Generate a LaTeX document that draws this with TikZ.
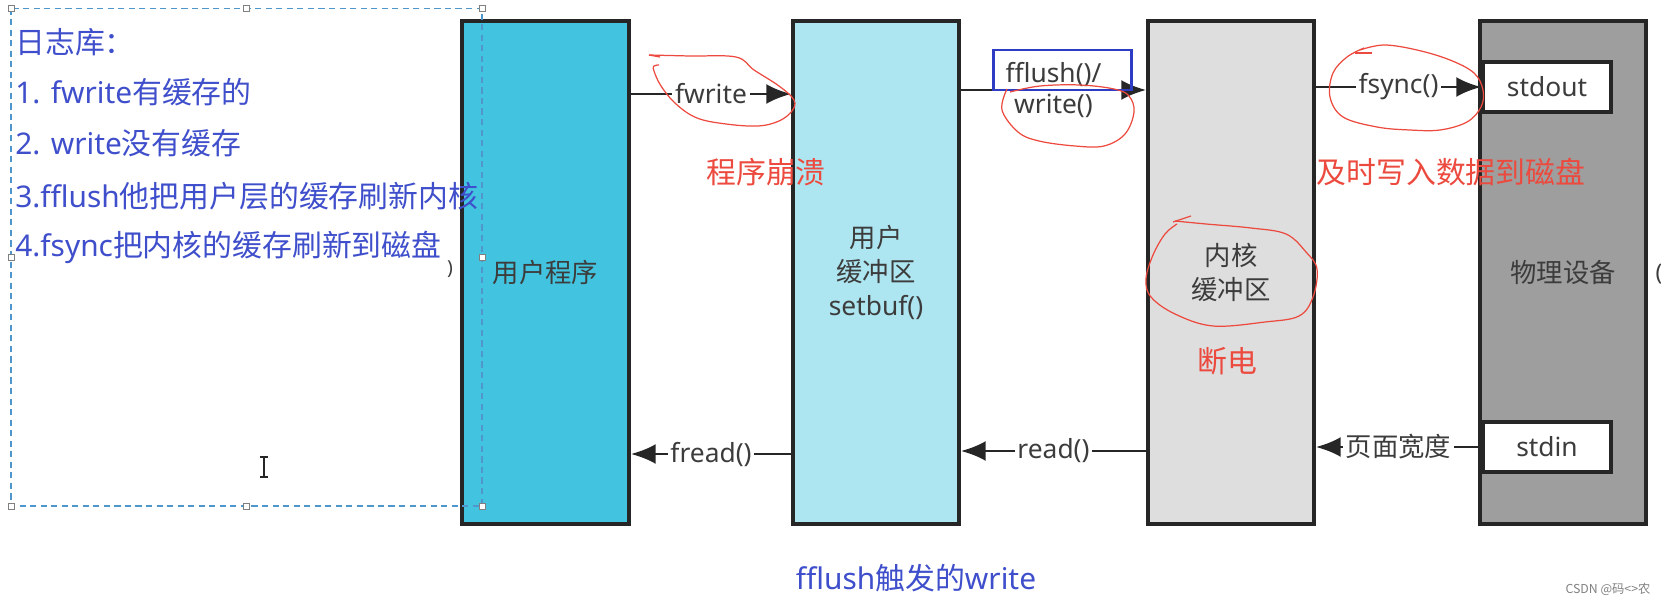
\documentclass[tikz,border=0pt]{standalone}
\usepackage{fontspec}
\setmainfont{Noto Sans}
\newfontfamily\cjk{Noto Sans CJK SC}
\usetikzlibrary{positioning,arrows.meta}
\definecolor{progcyan}{HTML}{42C4E0}
\definecolor{bufcyan}{HTML}{ADE5F0}
\definecolor{kerngray}{HTML}{DEDEDE}
\definecolor{devgray}{HTML}{9E9E9E}
\definecolor{edge}{HTML}{262626}
\definecolor{labelgray}{HTML}{3C3C3C}
\definecolor{pen}{HTML}{EC4A3E}
\definecolor{noteblue}{HTML}{3F4FCB}
\definecolor{markblue}{HTML}{2E3CC4}
\definecolor{selblue}{HTML}{4F96CC}
\tikzset{
  flowarrow/.style={-{Latex[length=5mm, width=4mm]}, line width=1.7pt, draw=edge},
  layerbox/.style={draw=edge, line width=2pt, minimum width=3.32cm, minimum height=10.06cm, align=center, text=labelgray, font=\fontsize{15}{19.5}\selectfont},
  portbox/.style={draw=edge, line width=2pt, fill=white, minimum width=2.56cm, minimum height=1cm, text=labelgray, font=\fontsize{15}{18}\selectfont},
  arrlabel/.style={fill=white, inner sep=1.5pt, text=labelgray, font=\fontsize{15}{18}\selectfont},
  redtext/.style={text=pen, font=\cjk\fontsize{17}{20}\selectfont},
  notetext/.style={text=noteblue, anchor=west, inner sep=0pt, font=\fontsize{17}{20}\selectfont},
  redpen/.style={draw=pen, line width=0.7pt},
  handlesq/.style={draw=gray, fill=white, line width=0.5pt}
}
\begin{document}
\begin{tikzpicture}[x=0.02cm, y=-0.02cm, >=Latex]
  \useasboundingbox (0,0) rectangle (1661,605);
  % layers
  \node[layerbox, fill=progcyan, minimum width=3.34cm] (prog) at (545.5,272.5) {\cjk 用户程序};
  \node[layerbox, fill=bufcyan] (ubuf) at (876,272.5) {{\cjk 用户}\\{\cjk 缓冲区}\\setbuf()};
  \node[layerbox, fill=kerngray] (kbuf) at (1231,272.5) {{\cjk 内核}\\{\cjk 缓冲区}};
  \node[layerbox, fill=devgray] (dev) at (1563,272.5) {\cjk 物理设备};
  \node[portbox] (stdout) at (1547,87) {stdout};
  \node[portbox] (stdin) at (1547,447) {stdin};

  % write path
  \coordinate (wy) at (0,94);
  \coordinate (fy) at (0,90);
  \draw[flowarrow] (prog.east |- wy) -- node[arrlabel] (lw) {fwrite} (ubuf.west |- wy);
  \draw[flowarrow] (ubuf.east |- fy) -- node[arrlabel, align=center] (lf) {fflush()/\\write()} (kbuf.west |- fy);
  \draw[flowarrow] (kbuf.east |- stdout) -- node[arrlabel] (ls) {fsync()} (stdout.west);

  % read path
  \coordinate (ry1) at (0,454);
  \coordinate (ry2) at (0,451);
  \draw[flowarrow] (ubuf.west |- ry1) -- node[arrlabel] (lr1) {fread()} (prog.east |- ry1);
  \draw[flowarrow] (kbuf.west |- ry2) -- node[arrlabel] (lr2) {read()} (ubuf.east |- ry2);
  \draw[flowarrow] (stdin.west) -- node[arrlabel] (lr3) {\cjk 页面宽度} (kbuf.east |- stdin);

  % red notes
  \node[redtext] (crash) at (766,172) {程序崩溃};
  \node[redtext] (sync) at (1451,172) {及时写入数据到磁盘};
  \node[redtext] (power) at (1227,361) {断电};

  % left notes
  \node[notetext] (n0) at (15,42) {\cjk 日志库：};
  \node[notetext] (n1) at (15,92) {1. fwrite{\cjk 有缓存的}};
  \node[notetext] (n2) at (15,143) {2. write{\cjk 没有缓存}};
  \node[notetext] (n3) at (15,196) {3.fflush{\cjk 他把用户层的缓存刷新内核}};
  \node[notetext] (n4) at (15,247) {4.fsync{\cjk 把内核的缓存刷新到磁盘}};
  \node[text=labelgray, font=\fontsize{11}{11}\selectfont] (br1) at (450,269) {)};
  \node[text=labelgray, font=\fontsize{13}{13}\selectfont] (br2) at (1659,274) {(};

  % selection frame
  \draw[selblue, line width=0.7pt, dash pattern=on 3.5pt off 2.5pt] (11,8.5) rectangle (482,506);
  \foreach \hx/\hy in {11/8.5, 246/8.5, 482/8.5, 11/257, 482/257, 11/506, 246/506, 482/506}
    \draw[handlesq] (\hx-3,\hy-3) rectangle ++(6,6);
  \draw[edge, line width=0.8pt] (264,457) -- (264,477) (260,457) -- (268,457) (260,477) -- (268,477);

  \node[text=noteblue, font=\fontsize{17}{20}\selectfont] (title) at (916,578) {fflush{\cjk 触发的}write};
  \node[text=gray, font=\cjk\fontsize{7}{8}\selectfont] (mark) at (1608,589) {CSDN @码<>农};

  % pen marks
  \draw[markblue, line width=1.7pt] (993,50) rectangle (1131,90);
  \draw[redpen] plot[smooth, tension=0.6] coordinates {(649,55) (690,56) (736,57) (754,70) (779,86) (794,100) (792,111) (779,121) (758,126) (726,124) (697,118) (676,104) (661,86) (654,71) (654,66) (659,65)};
  \draw[redpen] plot[smooth, tension=0.6] coordinates {(1007,89) (1002,110) (1018,132) (1039,141) (1075,146) (1104,146) (1125,134) (1134,112) (1129,96) (1114,89) (1080,85) (1040,86) (1010,92)};
  \draw[redpen] (1355,53) -- (1372,53);
  \draw[redpen] plot[smooth, tension=0.6] coordinates {(1360,50) (1384,45) (1417,50) (1450,60) (1474,73) (1483,90) (1481,107) (1467,122) (1440,130) (1410,130) (1377,127) (1343,117) (1330,97) (1333,73) (1347,57) (1364,48)};
  \draw[redpen] (1173,222) -- (1191,216);
  \draw[redpen] plot[smooth, tension=0.6] coordinates {(1175,221) (1206,224) (1251,228) (1286,234) (1306,252) (1317,269) (1313,297) (1299,316) (1265,322) (1213,326) (1175,314) (1151,297) (1146,279) (1153,255) (1165,234) (1177,224)};
  \draw[redpen] (649,55) -- (660,57);
\end{tikzpicture}
\end{document}
